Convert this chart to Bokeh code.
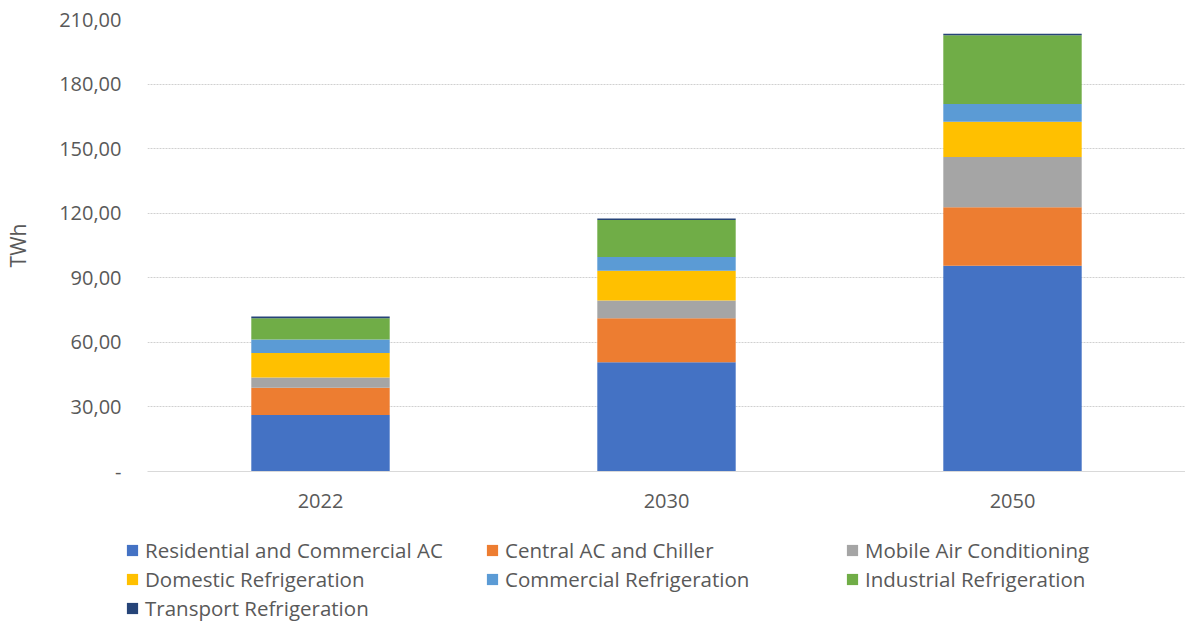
from bokeh.plotting import figure
from bokeh.layouts import column
from bokeh.models import FixedTicker, Legend, LegendItem, ColumnDataSource, Range1d
from bokeh.embed import file_html
from bokeh.resources import INLINE

years = ["2022", "2030", "2050"]
series = ["Residential and Commercial AC", "Central AC and Chiller", "Mobile Air Conditioning",
          "Domestic Refrigeration", "Commercial Refrigeration", "Industrial Refrigeration",
          "Transport Refrigeration"]
residential = [26.3, 50.8, 95.6]
central = [12.6, 20.4, 27.2]
mobile = [4.8, 8.3, 23.3]
domestic = [11.3, 13.8, 16.4]
commercial = [6.3, 6.3, 8.2]
industrial = [9.9, 17.3, 32.0]
transport = [0.8, 0.7, 0.7]
colors = ["#4472C4", "#ED7D31", "#A5A5A5", "#FFC000", "#5B9BD5", "#70AD47", "#264478"]
y_ticks = [0, 30, 60, 90, 120, 150, 180, 210]
y_labels = ["-", "30,00", "60,00", "90,00", "120,00", "150,00", "180,00", "210,00"]

FONT = "Open Sans"
TXT = "#595959"

keys = ["s%d" % i for i in range(7)]
data = dict(x=years)
for k, v in zip(keys, [residential, central, mobile, domestic, commercial, industrial, transport]):
    data[k] = v
src = ColumnDataSource(data)

p = figure(x_range=years, y_range=(0, 210), width=1185, height=535,
           output_backend="svg", toolbar_location=None,
           min_border_left=147, min_border_right=0, min_border_top=19, min_border_bottom=64)
p.outline_line_color = None

renderers = p.vbar_stack(keys, x="x", width=0.4, color=colors, source=src, line_width=0)

p.yaxis.ticker = FixedTicker(ticks=y_ticks)
p.yaxis.major_label_overrides = {t: l for t, l in zip(y_ticks, y_labels)}
p.yaxis.axis_line_color = None
p.yaxis.major_tick_line_color = None
p.yaxis.minor_tick_line_color = None
p.yaxis.major_label_standoff = 20
p.yaxis.major_label_text_font = FONT
p.yaxis.major_label_text_font_size = "20px"
p.yaxis.major_label_text_color = TXT
p.yaxis.axis_label = "TWh"
p.yaxis.axis_label_text_font = FONT
p.yaxis.axis_label_text_font_size = "21px"
p.yaxis.axis_label_text_font_style = "normal"
p.yaxis.axis_label_text_color = TXT
p.yaxis.axis_label_standoff = 24

p.xaxis.axis_line_color = "#D9D9D9"
p.xaxis.axis_line_width = 1
p.xaxis.major_tick_line_color = None
p.xaxis.minor_tick_line_color = None
p.xaxis.major_label_standoff = 16
p.xaxis.major_label_text_font = FONT
p.xaxis.major_label_text_font_size = "20px"
p.xaxis.major_label_text_color = TXT

p.xgrid.grid_line_color = None
p.ygrid.grid_line_color = "#D0D0D0"
p.ygrid.grid_line_dash = "2 1"
p.ygrid.grid_line_width = 1

# legend panel: same series drawn out of view, only used for legend swatches
p2 = figure(width=1185, height=88, x_range=years, y_range=Range1d(1000, 1001),
            x_axis_location=None, y_axis_location=None,
            output_backend="svg", toolbar_location=None,
            min_border_left=0, min_border_right=0, min_border_top=0, min_border_bottom=0)
try:
    p2.frame_align = False
except Exception:
    pass
p2.outline_line_color = None
p2.grid.grid_line_color = None
swatches = p2.vbar_stack(keys, x="x", width=0.4, color=colors, source=src, line_width=0)

def make_legend(idx, loc):
    items = [LegendItem(label=series[i], renderers=[swatches[i]]) for i in idx]
    return Legend(items=items, location=loc,
                  label_text_font=FONT, label_text_font_size="20.5px", label_text_color=TXT,
                  glyph_width=14, glyph_height=14, label_standoff=6, spacing=0,
                  label_height=29, padding=0, margin=0, border_line_color=None,
                  background_fill_alpha=0)

p2.add_layout(make_legend([0, 3, 6], (125, 1)), "center")
p2.add_layout(make_legend([1, 4], (485, 30)), "center")
p2.add_layout(make_legend([2, 5], (845, 30)), "center")

layout = column(p, p2, spacing=0)
open("out.html", "w").write(file_html(layout, INLINE))
